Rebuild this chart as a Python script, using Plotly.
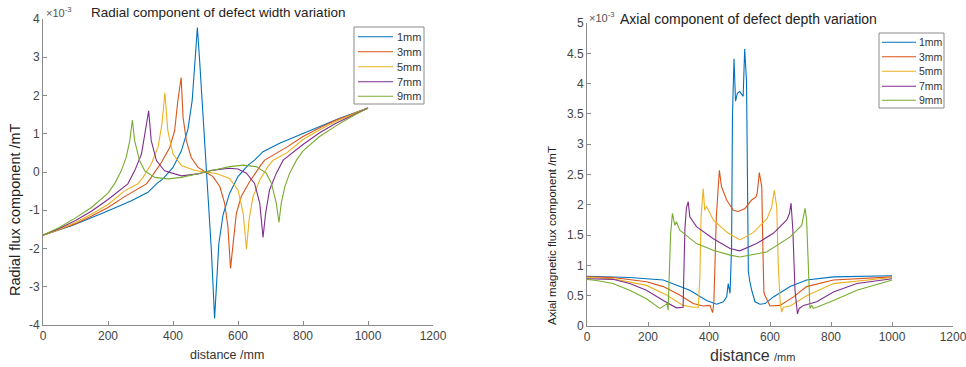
import plotly.graph_objects as go

# ---------------- Left chart: radial component (values in 1e-3 mT) ----------------
labels = ["1mm", "3mm", "5mm", "7mm", "9mm"]
colors = ["#0072BD", "#D95319", "#EDB120", "#7E2F8E", "#77AC30"]

rad_x_1 = [0, 90, 190, 272, 323, 349, 369, 400, 426, 446, 459, 466, 475, 482, 489, 497, 503, 511, 518, 528, 535, 541, 554, 574, 600, 631, 651, 677, 728, 810, 911, 1000]
rad_y_1 = [-1.65, -1.4, -1.05, -0.75, -0.53, -0.31, -0.18, 0.12, 0.56, 1.12, 1.87, 2.7, 3.78, 2.9, 1.93, 0.62, 0.0, -1.0, -2.04, -3.83, -2.74, -1.87, -1.12, -0.56, -0.12, 0.18, 0.31, 0.53, 0.75, 1.05, 1.4, 1.67]

rad_x_3 = [0, 50, 100, 150, 200, 250, 318, 333, 364, 390, 405, 415, 425, 431, 441, 456, 477, 500, 523, 544, 559, 569, 577, 585, 595, 610, 636, 667, 682, 750, 800, 850, 900, 950, 1000]
rad_y_3 = [-1.65, -1.51, -1.35, -1.15, -0.93, -0.65, -0.31, -0.14, 0.25, 0.64, 1.08, 1.87, 2.47, 1.43, 0.82, 0.38, 0.12, 0.0, -0.12, -0.38, -0.82, -1.43, -2.52, -1.87, -1.08, -0.64, -0.25, 0.14, 0.31, 0.65, 0.93, 1.15, 1.35, 1.51, 1.67]

rad_x_5 = [0, 50, 100, 150, 200, 250, 292, 308, 333, 354, 366, 375, 384, 400, 426, 467, 500, 533, 574, 600, 616, 626, 634, 646, 667, 692, 708, 750, 800, 850, 900, 950, 1000]
rad_y_5 = [-1.65, -1.5, -1.32, -1.1, -0.85, -0.5, -0.31, -0.14, 0.21, 0.65, 1.26, 2.07, 1.08, 0.47, 0.17, 0.04, 0.0, -0.04, -0.17, -0.47, -1.08, -2.02, -1.26, -0.65, -0.21, 0.14, 0.31, 0.5, 0.85, 1.1, 1.32, 1.5, 1.67]

rad_x_7 = [0, 50, 100, 150, 200, 261, 282, 303, 315, 325, 333, 349, 374, 426, 477, 500, 523, 574, 600, 626, 651, 667, 677, 685, 697, 718, 739, 800, 850, 900, 950, 1000]
rad_y_7 = [-1.65, -1.48, -1.27, -1.02, -0.72, -0.31, 0.03, 0.47, 1.08, 1.6, 0.82, 0.3, 0.03, -0.1, -0.05, 0.0, 0.05, 0.1, 0.08, -0.03, -0.3, -0.82, -1.71, -1.08, -0.47, -0.03, 0.31, 0.72, 1.02, 1.27, 1.48, 1.67]

rad_x_9 = [0, 50, 100, 150, 200, 220, 241, 256, 267, 275, 282, 297, 313, 344, 384, 426, 500, 574, 616, 656, 687, 703, 718, 726, 733, 744, 759, 780, 800, 850, 900, 950, 1000]
rad_y_9 = [-1.65, -1.45, -1.2, -0.92, -0.55, -0.31, 0.03, 0.38, 0.82, 1.36, 0.82, 0.3, 0.03, -0.14, -0.18, -0.14, 0.0, 0.14, 0.18, 0.14, -0.03, -0.3, -0.82, -1.32, -0.82, -0.38, -0.03, 0.31, 0.55, 0.92, 1.2, 1.45, 1.67]

# ---------------- Right chart: axial component (values in 1e-3 mT) ----------------
ax_x_1 = [0, 140, 250, 337, 392, 425, 447, 458, 463, 469, 474, 477, 482, 487, 493, 501, 509, 512, 517, 523, 526, 529, 534, 540, 551, 567, 584, 611, 666, 720, 808, 885, 1000]
ax_y_1 = [0.82, 0.8, 0.76, 0.59, 0.42, 0.36, 0.4, 0.48, 0.7, 0.54, 1.3, 3.48, 4.41, 3.71, 3.84, 3.87, 3.81, 3.79, 4.57, 4.04, 2.5, 0.9, 0.73, 0.59, 0.4, 0.36, 0.37, 0.48, 0.65, 0.76, 0.81, 0.82, 0.83]

ax_x_3 = [0, 85, 195, 250, 304, 348, 381, 403, 412, 416, 424, 431, 434, 441, 458, 480, 496, 518, 540, 554, 558, 565, 573, 577, 580, 584, 600, 633, 677, 720, 808, 1000]
ax_y_3 = [0.81, 0.8, 0.73, 0.65, 0.51, 0.37, 0.33, 0.34, 0.22, 0.4, 1.8, 2.4, 2.57, 2.3, 2.08, 1.91, 1.89, 1.94, 2.08, 2.13, 2.19, 2.53, 2.3, 1.2, 0.56, 0.5, 0.33, 0.34, 0.48, 0.65, 0.76, 0.81]

ax_x_5 = [0, 85, 195, 261, 315, 348, 365, 370, 374, 378, 381, 386, 392, 414, 458, 501, 545, 590, 605, 614, 622, 627, 633, 638, 644, 666, 720, 808, 1000]
ax_y_5 = [0.8, 0.78, 0.67, 0.51, 0.34, 0.31, 0.31, 0.8, 1.8, 2.15, 2.27, 1.91, 1.97, 1.75, 1.55, 1.42, 1.54, 1.77, 1.95, 2.24, 1.97, 1.03, 0.42, 0.23, 0.31, 0.33, 0.5, 0.7, 0.8]

ax_x_7 = [0, 85, 140, 195, 250, 282, 293, 315, 318, 321, 326, 332, 337, 359, 414, 469, 501, 556, 611, 655, 664, 669, 675, 682, 690, 696, 710, 753, 808, 885, 1000]
ax_y_7 = [0.78, 0.77, 0.7, 0.59, 0.42, 0.34, 0.3, 0.31, 0.9, 1.6, 1.95, 2.05, 1.8, 1.64, 1.44, 1.28, 1.24, 1.36, 1.53, 1.75, 1.86, 2.03, 1.58, 0.59, 0.2, 0.29, 0.34, 0.4, 0.56, 0.7, 0.78]

ax_x_9 = [0, 31, 85, 140, 195, 228, 239, 255, 263, 266, 270, 274, 280, 288, 293, 304, 359, 414, 469, 501, 589, 666, 704, 715, 720, 726, 731, 737, 742, 753, 808, 885, 1000]
ax_y_9 = [0.77, 0.75, 0.7, 0.59, 0.45, 0.34, 0.29, 0.34, 0.37, 0.26, 0.8, 1.5, 1.86, 1.66, 1.72, 1.58, 1.36, 1.25, 1.17, 1.14, 1.22, 1.47, 1.66, 1.94, 1.75, 0.92, 0.29, 0.34, 0.29, 0.31, 0.42, 0.59, 0.76]

x_ticks = [0, 200, 400, 600, 800, 1000, 1200]
left_y_ticks = [-4, -3, -2, -1, 0, 1, 2, 3, 4]
right_y_ticks = [0, 0.5, 1, 1.5, 2, 2.5, 3, 3.5, 4, 4.5, 5]

rad_series = [(rad_x_1, rad_y_1), (rad_x_3, rad_y_3), (rad_x_5, rad_y_5), (rad_x_7, rad_y_7), (rad_x_9, rad_y_9)]
ax_series = [(ax_x_1, ax_y_1), (ax_x_3, ax_y_3), (ax_x_5, ax_y_5), (ax_x_7, ax_y_7), (ax_x_9, ax_y_9)]

FONT = "Liberation Sans, Arial, sans-serif"
W, H = 966, 367

fig = go.Figure()
for (xs, ys), lab, col in zip(rad_series, labels, colors):
    fig.add_trace(go.Scatter(x=xs, y=ys, mode="lines", name=lab, line=dict(color=col, width=1.1),
                             xaxis="x", yaxis="y", showlegend=False))
for (xs, ys), lab, col in zip(ax_series, labels, colors):
    fig.add_trace(go.Scatter(x=xs, y=ys, mode="lines", name=lab, line=dict(color=col, width=1.1),
                             xaxis="x2", yaxis="y2", showlegend=False))

def px_x(p):
    return p / W

def px_y(p):
    return 1 - p / H

axis_common = dict(showgrid=False, zeroline=False, showline=True, linecolor="#8a8a8a", linewidth=1,
                   ticks="inside", ticklen=4, tickcolor="#8a8a8a", mirror=False, automargin=False,
                   ticklabeloverflow="allow",
                   tickfont=dict(family=FONT, size=12, color="#444444"))

left_y_text = [str(v) for v in left_y_ticks]
right_y_text = [("%g" % v) for v in right_y_ticks]

fig.update_layout(
    width=W, height=H,
    margin=dict(l=0, r=0, t=0, b=0, autoexpand=False),
    paper_bgcolor="white", plot_bgcolor="white",
    font=dict(family=FONT, color="#333333"),
    xaxis=dict(domain=[px_x(43), px_x(433)], range=[0, 1200], tickvals=x_ticks, anchor="y",
               **axis_common),
    yaxis=dict(domain=[px_y(325), px_y(19)], range=[-4, 4], tickvals=left_y_ticks, ticktext=left_y_text,
               anchor="x", **axis_common),
    xaxis2=dict(domain=[px_x(587), px_x(953)], range=[0, 1200], tickvals=x_ticks, anchor="y2",
                **axis_common),
    yaxis2=dict(domain=[px_y(326), px_y(23)], range=[0, 5], tickvals=right_y_ticks, ticktext=right_y_text,
                anchor="x2", **axis_common),
    showlegend=False,
)

ann = []
shapes = []

# legend boxes (drawn as shapes + text so that row spacing matches the reference)
def add_legend(box, row_y, line_x0, line_x1, text_x, fsize):
    x0, y0, x1, y1 = box
    shapes.append(dict(type="rect", xref="paper", yref="paper", x0=px_x(x0), x1=px_x(x1),
                       y0=px_y(y1), y1=px_y(y0), line=dict(color="#8a8a8a", width=1),
                       fillcolor="white", layer="above"))
    for ry, lab, col in zip(row_y, labels, colors):
        shapes.append(dict(type="line", xref="paper", yref="paper", x0=px_x(line_x0), x1=px_x(line_x1),
                           y0=px_y(ry), y1=px_y(ry), line=dict(color=col, width=1.1), layer="above"))
        ann.append(dict(text=lab, x=px_x(text_x), y=px_y(ry), xref="paper", yref="paper",
                        xanchor="left", yanchor="middle", showarrow=False,
                        font=dict(family=FONT, size=fsize, color="#333333")))

add_legend((354, 27, 424, 104), [36.7, 51.7, 66.7, 81.7, 96.3], 358, 393, 395, 11)
add_legend((879, 33, 944, 108), [42.3, 56.7, 71.3, 86.3, 100.3], 882, 916, 917, 10.5)

# titles
ann.append(dict(text="Radial component of defect width variation", x=px_x(89), y=px_y(13), xref="paper", yref="paper",
                xanchor="left", yanchor="middle", showarrow=False, font=dict(family=FONT, size=13.5, color="#222222")))
ann.append(dict(text="Axial component of defect depth variation", x=px_x(618), y=px_y(19), xref="paper", yref="paper",
                xanchor="left", yanchor="middle", showarrow=False, font=dict(family=FONT, size=14, color="#222222")))
# exponent labels
ann.append(dict(text="×10<sup>-3</sup>", x=px_x(44), y=px_y(12), xref="paper", yref="paper",
                xanchor="left", yanchor="middle", showarrow=False, font=dict(family=FONT, size=11, color="#555555")))
ann.append(dict(text="×10<sup>-3</sup>", x=px_x(587), y=px_y(17), xref="paper", yref="paper",
                xanchor="left", yanchor="middle", showarrow=False, font=dict(family=FONT, size=11, color="#555555")))
# y titles
ann.append(dict(text="Radial flux component /mT", x=px_x(15), y=px_y(210), xref="paper", yref="paper",
                xanchor="center", yanchor="middle", textangle=-90, showarrow=False,
                font=dict(family=FONT, size=14.5, color="#222222")))
ann.append(dict(text="Axial magnetic flux component /mT", x=px_x(552), y=px_y(236), xref="paper", yref="paper",
                xanchor="center", yanchor="middle", textangle=-90, showarrow=False,
                font=dict(family=FONT, size=11.5, color="#222222")))
# x titles
ann.append(dict(text="distance /mm", x=px_x(227), y=px_y(355), xref="paper", yref="paper",
                xanchor="center", yanchor="middle", showarrow=False, font=dict(family=FONT, size=12.5, color="#333333")))
ann.append(dict(text="distance <span style='font-size:11px'>/mm</span>", x=px_x(752), y=px_y(355), xref="paper", yref="paper",
                xanchor="center", yanchor="middle", showarrow=False, font=dict(family=FONT, size=16, color="#333333")))
fig.update_layout(annotations=ann, shapes=shapes)

fig.write_html("out.html", config={"displayModeBar": False},
               post_script="document.body.style.margin='0px';document.body.style.padding='0px';")
